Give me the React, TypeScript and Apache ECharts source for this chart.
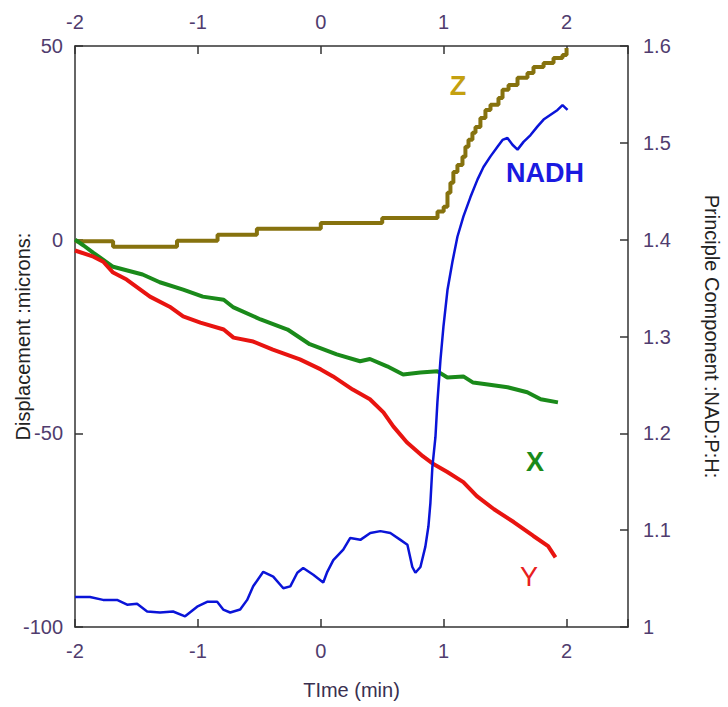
import React, { useEffect, useRef } from 'react';
import * as echarts from 'echarts';

// Time (min) vs displacement (microns) — step trace Z
const zData: [number, number][] = [
  [-2.0, -0.4], [-1.69, -1.8], [-1.17, -0.3], [-0.84, 1.3], [-0.52, 2.8],
  [0.0, 4.3], [0.5, 5.6], [0.95, 7.3], [1.0, 8.5], [1.031, 12.1], [1.055, 14.7],
  [1.079, 17.5], [1.112, 19.3], [1.153, 21.4], [1.177, 24.0], [1.202, 25.8],
  [1.234, 27.6], [1.259, 29.1], [1.299, 31.4], [1.34, 33.5], [1.381, 34.8],
  [1.446, 36.6], [1.479, 38.7], [1.528, 39.9], [1.601, 41.8], [1.682, 43.0],
  [1.731, 44.6], [1.813, 45.6], [1.894, 46.9], [1.967, 47.7], [2.0, 49.5],
];

const xData: [number, number][] = [
  [-2.0, 0], [-1.93, -1.5], [-1.85, -3.4], [-1.69, -7], [-1.45, -9], [-1.31, -11],
  [-1.12, -12.9], [-0.96, -14.7], [-0.79, -15.5], [-0.71, -17.5], [-0.49, -20.6],
  [-0.27, -23.2], [-0.09, -27], [0.13, -29.6], [0.32, -31.4], [0.4, -30.8],
  [0.54, -32.7], [0.67, -34.8], [0.81, -34.3], [0.95, -34], [1.03, -35.6],
  [1.16, -35.3], [1.24, -36.9], [1.36, -37.4], [1.52, -38.1], [1.68, -39.4],
  [1.79, -41.2], [1.93, -42],
];

const yData: [number, number][] = [
  [-2.0, -2.8], [-1.85, -4.4], [-1.77, -5.7], [-1.69, -8.5], [-1.58, -10.3],
  [-1.39, -14.7], [-1.23, -17.3], [-1.12, -19.8], [-0.98, -21.4], [-0.79, -23.2],
  [-0.71, -25.3], [-0.55, -26.3], [-0.39, -28.4], [-0.17, -30.9], [0.0, -33.5],
  [0.1, -35.3], [0.26, -38.7], [0.4, -41.2], [0.51, -44.6], [0.59, -48.2],
  [0.7, -52.3], [0.83, -55.9], [0.92, -58], [1.03, -60], [1.16, -62.6],
  [1.27, -66.2], [1.41, -69.6], [1.57, -72.9], [1.73, -76.5], [1.85, -79.1],
  [1.91, -82],
];

// Principle component (NADH), right axis
const nadhData: [number, number][] = [
  [-2.0, 1.031], [-1.878, 1.031], [-1.772, 1.028], [-1.658, 1.028], [-1.576, 1.023],
  [-1.495, 1.024], [-1.413, 1.016], [-1.308, 1.015], [-1.202, 1.016], [-1.104, 1.011],
  [-1.006, 1.021], [-0.925, 1.026], [-0.843, 1.026], [-0.794, 1.018], [-0.737, 1.015],
  [-0.656, 1.018], [-0.599, 1.028], [-0.55, 1.042], [-0.468, 1.057], [-0.387, 1.052],
  [-0.305, 1.04], [-0.248, 1.042], [-0.191, 1.056], [-0.143, 1.061], [-0.061, 1.054],
  [0.02, 1.046], [0.053, 1.057], [0.102, 1.069], [0.183, 1.08], [0.24, 1.092],
  [0.322, 1.09], [0.403, 1.097], [0.485, 1.099], [0.566, 1.097], [0.648, 1.09],
  [0.705, 1.085], [0.745, 1.062], [0.77, 1.056], [0.811, 1.062], [0.851, 1.083],
  [0.876, 1.104], [0.892, 1.128], [0.908, 1.165], [0.933, 1.196], [0.949, 1.232],
  [0.974, 1.276], [0.998, 1.31], [1.031, 1.348], [1.071, 1.377], [1.112, 1.403],
  [1.161, 1.424], [1.218, 1.444], [1.275, 1.462], [1.324, 1.475], [1.381, 1.486],
  [1.438, 1.496], [1.479, 1.503], [1.519, 1.505], [1.56, 1.498], [1.601, 1.493],
  [1.65, 1.501], [1.707, 1.508], [1.764, 1.517], [1.813, 1.524], [1.87, 1.529],
  [1.927, 1.534], [1.967, 1.539], [2.008, 1.534],
];

const X_MIN = -2;
const X_MAX = 2.5;
const LEFT_MIN = -100;
const LEFT_MAX = 50;
const RIGHT_MIN = 1.0;
const RIGHT_MAX = 1.6;

const FONT = '"Liberation Sans", Arial, sans-serif';
const TICK_COLOR = '#503c6e';
const LINE_COLOR = '#333';

export default function App() {
  const ref = useRef<HTMLDivElement>(null);

  useEffect(() => {
    document.body.style.margin = '0';
    if (!ref.current) return;
    const chart = echarts.init(ref.current, undefined, { renderer: 'svg' });

    const axisLine = { show: true, onZero: false, lineStyle: { color: LINE_COLOR, width: 1.5 } };
    const axisTick = { show: true, inside: true, length: 8, lineStyle: { color: LINE_COLOR, width: 1.5 } };
    const labelStyle = { color: TICK_COLOR, fontSize: 20, fontFamily: FONT };
    const xFormatter = (v: number) => (v > 2.01 ? '' : String(v));

    chart.setOption({
      animation: false,
      backgroundColor: '#fff',
      grid: { left: 75, right: 100, top: 46, bottom: 80, containLabel: false, outerBoundsMode: 'none' },
      xAxis: [
        {
          type: 'value', position: 'bottom', min: X_MIN, max: X_MAX, interval: 1,
          axisLine, axisTick, splitLine: { show: false },
          axisLabel: { ...labelStyle, margin: 14, formatter: xFormatter },
          name: 'TIme (min)', nameLocation: 'middle', nameGap: 53, nameMoveOverlap: false,
          nameTextStyle: { color: '#3a3050', fontSize: 20, fontFamily: FONT },
        },
        {
          type: 'value', position: 'top', min: X_MIN, max: X_MAX, interval: 1,
          axisLine, axisTick, splitLine: { show: false },
          axisLabel: { ...labelStyle, margin: 14, formatter: xFormatter },
        },
      ],
      yAxis: [
        {
          type: 'value', position: 'left', min: LEFT_MIN, max: LEFT_MAX, interval: 50,
          axisLine, axisTick, splitLine: { show: false },
          axisLabel: { ...labelStyle, margin: 12 },
          name: 'Displacement :microns:', nameLocation: 'middle', nameGap: 42, nameRotate: 90,
          nameMoveOverlap: false,
          nameTextStyle: { color: '#222', fontSize: 20, fontFamily: FONT },
        },
        {
          type: 'value', position: 'right', min: RIGHT_MIN, max: RIGHT_MAX, interval: 0.1,
          axisLine, axisTick, splitLine: { show: false },
          axisLabel: { ...labelStyle, margin: 15, formatter: (v: number) => String(Math.round(v * 10) / 10) },
          name: 'Principle Component :NAD:P:H:', nameLocation: 'middle', nameGap: 74, nameRotate: -90,
          nameMoveOverlap: false,
          nameTextStyle: { color: '#222', fontSize: 20, fontFamily: FONT },
        },
      ],
      series: [
        {
          name: 'Z', type: 'line', xAxisIndex: 0, yAxisIndex: 0, data: zData, step: 'end',
          showSymbol: false, lineStyle: { color: '#86720e', width: 4 }, z: 2,
        },
        {
          name: 'X', type: 'line', xAxisIndex: 0, yAxisIndex: 0, data: xData,
          showSymbol: false, lineStyle: { color: '#1a8a1a', width: 4 }, z: 2,
        },
        {
          name: 'Y', type: 'line', xAxisIndex: 0, yAxisIndex: 0, data: yData,
          showSymbol: false, lineStyle: { color: '#e81410', width: 4 }, z: 2,
        },
        {
          name: 'NADH', type: 'line', xAxisIndex: 0, yAxisIndex: 1, data: nadhData,
          showSymbol: false, lineStyle: { color: '#0a14d8', width: 2.5 }, z: 3,
        },
      ],
      graphic: [
        { type: 'text', x: 458, y: 86, style: { text: 'Z', fill: '#c4a010', font: `bold 27px ${FONT}`, align: 'center', verticalAlign: 'middle' } },
        { type: 'text', x: 545, y: 173, style: { text: 'NADH', fill: '#1a1ae0', font: `bold 27px ${FONT}`, align: 'center', verticalAlign: 'middle' } },
        { type: 'text', x: 535, y: 462, style: { text: 'X', fill: '#1a8a1a', font: `bold 27px ${FONT}`, align: 'center', verticalAlign: 'middle' } },
        { type: 'text', x: 529, y: 577, style: { text: 'Y', fill: '#e82020', font: `27px ${FONT}`, align: 'center', verticalAlign: 'middle' } },
      ],
    });

    return () => chart.dispose();
  }, []);

  return <div ref={ref} style={{ width: 728, height: 707 }} />;
}
